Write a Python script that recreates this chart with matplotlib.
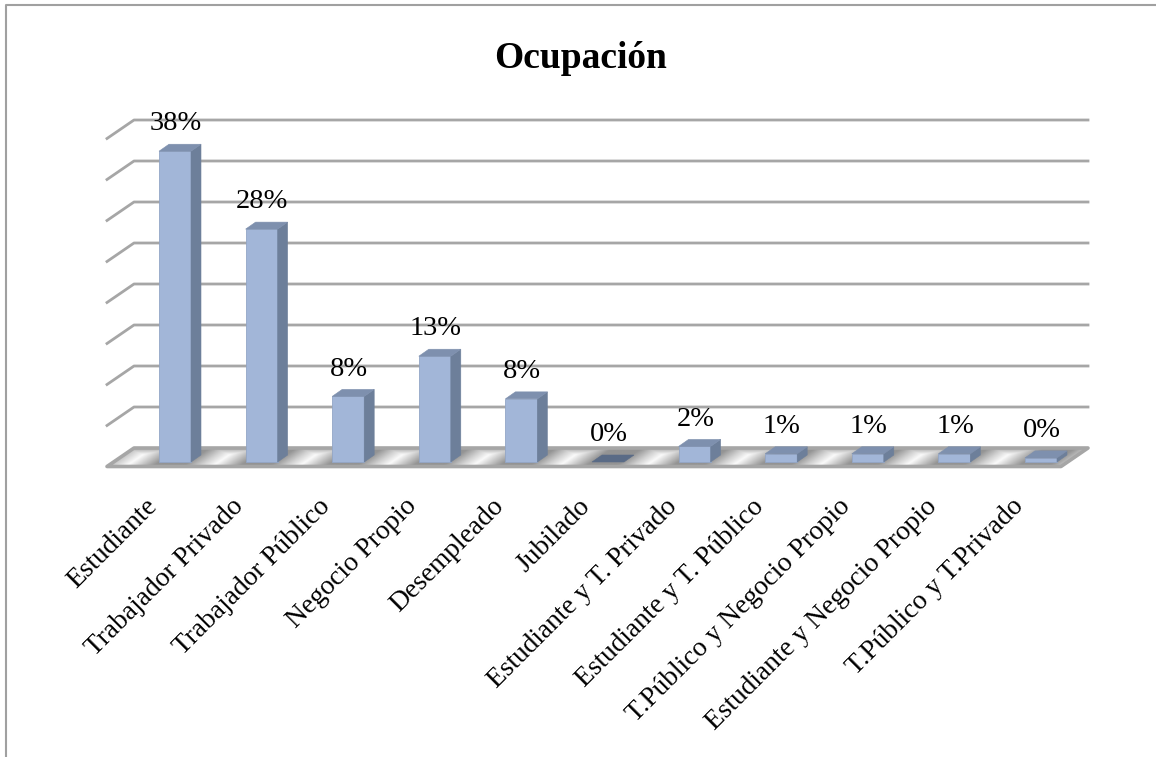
import numpy as np
import matplotlib
matplotlib.use('Agg')
import matplotlib.pyplot as plt
from matplotlib.patches import Polygon

categories = ['Estudiante', 'Trabajador Privado', 'Trabajador Público', 'Negocio Propio',
              'Desempleado', 'Jubilado', 'Estudiante y T. Privado', 'Estudiante y T. Público',
              'T.Público y Negocio Propio', 'Estudiante y Negocio Propio', 'T.Público y T.Privado']
values = [37.9, 28.4, 8.0, 12.9, 7.7, 0.0, 1.9, 1.0, 1.0, 1.0, 0.5]
labels = ['38%', '28%', '8%', '13%', '8%', '0%', '2%', '1%', '1%', '1%', '0%']
grid_values = [0, 5, 10, 15, 20, 25, 30, 35, 40]

W, H = 1156, 757
px_per_cat = 86.6
px_per_val = 8.2
x0_px = 175.0   # centre of first bar
y0_px = 462.0   # front base of the bars

bar_w = 32 / px_per_cat
bar_dx, bar_dy = 10 / px_per_cat, 7 / px_per_val      # bar depth
wall_dx, wall_dy = 27 / px_per_cat, 18.5 / px_per_val  # floor depth
floor_left = (107 - x0_px) / px_per_cat
floor_right = (1061 - x0_px) / px_per_cat
floor_y = -4.5 / px_per_val

plt.rcParams['font.family'] = ['Liberation Serif', 'DejaVu Serif']

fig = plt.figure(figsize=(W / 100, H / 100), dpi=100)
ax = fig.add_axes([0, 0, 1, 1])
xlim = (-x0_px / px_per_cat, (W - x0_px) / px_per_cat)
ylim = ((y0_px - H) / px_per_val, y0_px / px_per_val)
ax.axis('off')

grid_col = '#a6a6a6'

# floor with the diagonal shading between the bars
floor_pts = [(floor_left, floor_y), (floor_right, floor_y),
             (floor_right + wall_dx, floor_y + wall_dy), (floor_left + wall_dx, floor_y + wall_dy)]
gx = np.linspace(floor_left, floor_right + wall_dx, 1200)
gy = np.linspace(floor_y, floor_y + wall_dy, 40)
xx, yy = np.meshgrid(gx, gy)
sheared = xx - yy * (wall_dx / wall_dy)
u = (sheared + 42 / px_per_cat) % 1.0
shade = np.interp(u, [0, 0.31, 0.66, 0.85, 1.0], [0, 1, 1, 0.4, 0])
back = np.clip((yy - (floor_y + wall_dy * 0.6)) / (wall_dy * 0.4), 0, 1)
shade = np.maximum(shade, back * 0.9)
im = ax.imshow(0.98 - 0.4 * shade, cmap='gray', vmin=0, vmax=1, origin='lower', aspect='auto',
               extent=(gx[0], gx[-1], gy[0], gy[-1]), zorder=1, interpolation='bilinear')
floor = Polygon(floor_pts, closed=True, fill=False, edgecolor=grid_col, linewidth=2.6,
                joinstyle='round', zorder=2)
ax.add_patch(floor)
im.set_clip_path(floor)

# back wall grid lines and their slanted ticks on the left side
for g in grid_values[1:]:
    ax.plot([floor_left, floor_left + wall_dx, floor_right + wall_dx],
            [floor_y + g, floor_y + wall_dy + g, floor_y + wall_dy + g],
            color=grid_col, lw=2.0, solid_joinstyle='round', zorder=2)

# bars
front_col, side_col, top_col = '#a2b6d8', '#6d7f9a', '#7e90ae'
for i, v in enumerate(values):
    l, r = i - bar_w / 2, i + bar_w / 2
    if v > 0:
        ax.add_patch(Polygon([(l, 0), (r, 0), (r, v), (l, v)], fc=front_col, ec='#93a6c6', lw=0.6, zorder=3))
        ax.add_patch(Polygon([(r, 0), (r + bar_dx, bar_dy), (r + bar_dx, v + bar_dy), (r, v)],
                             fc=side_col, ec=side_col, lw=0.4, zorder=3))
        ax.add_patch(Polygon([(l, v), (r, v), (r + bar_dx, v + bar_dy), (l + bar_dx, v + bar_dy)],
                             fc=top_col, ec=top_col, lw=0.4, zorder=3))
    else:
        ax.add_patch(Polygon([(l, 0), (r, 0), (r + bar_dx, bar_dy), (l + bar_dx, bar_dy)],
                             fc='#5a6b86', ec='#5a6b86', lw=0.4, zorder=3))
    ax.text(i + bar_dx / 2 - 0.05, v + bar_dy + 0.95, labels[i], ha='center', va='bottom',
            fontsize=20.5, color='black', zorder=4)
    ax.text(i - 0.35, -3.9, categories[i], rotation=45, rotation_mode='anchor',
            ha='right', va='top', fontsize=19.7, color='black', zorder=4)

ax.text(581 / W, 1 - 58 / H, 'Ocupación', transform=ax.transAxes, ha='center', va='center',
        fontsize=27, fontweight='bold', color='black')

# outer frame of the chart
ax.plot([5.5 / W, 5.5 / W, 1], [0, 1 - 5 / H, 1 - 5 / H], transform=ax.transAxes,
        color='#a0a0a0', lw=1.5, zorder=5)

ax.set_xlim(xlim)
ax.set_ylim(ylim)
fig.savefig('out.png', dpi=100)
